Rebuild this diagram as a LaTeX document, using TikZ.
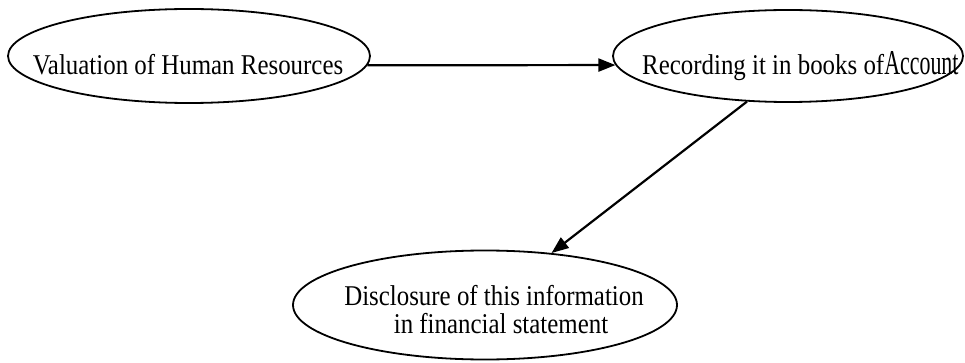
\documentclass[tikz,border=0pt]{standalone}
\usepackage{fontspec}
\setmainfont{Liberation Serif}
\usetikzlibrary{shapes.geometric,arrows.meta}
\begin{document}
\begin{tikzpicture}[x=1pt,y=-1pt,
  oval/.style={ellipse,draw,line width=1.8pt,inner sep=0pt},
  lbl/.style={font=\fontsize{24.9}{28}\selectfont,inner sep=0pt,align=center},
  conn/.style={line width=2.2pt,-{Triangle[length=17pt,width=13pt]}}]
\useasboundingbox (0,0) rectangle (965,363);
\node[oval,minimum width=362pt,minimum height=94pt] (v) at (189,56) {};
\node[oval,minimum width=350pt,minimum height=92pt] (r) at (788,56) {};
\node[oval,minimum width=384pt,minimum height=109pt] (d) at (485,305) {};
\node[lbl,anchor=base] (vt) at (188,75) {\scalebox{1}[1.15]{Valuation of Human Resources}};
\node[lbl,anchor=base west] (rt) at (642,75) {\scalebox{1}[1.15]{Recording it in books of}\scalebox{0.88}[1.4]{Account}};
\node[lbl,anchor=base] (dt1) at (494,305) {\scalebox{1}[1.15]{Disclosure of this information}};
\node[lbl,anchor=base] (dt2) at (501,333) {\scalebox{1}[1.15]{in financial statement}};
\draw[conn] (v.-3) -- (r.183);
\draw[conn] (r.228) -- (d.38);
\end{tikzpicture}
\end{document}
